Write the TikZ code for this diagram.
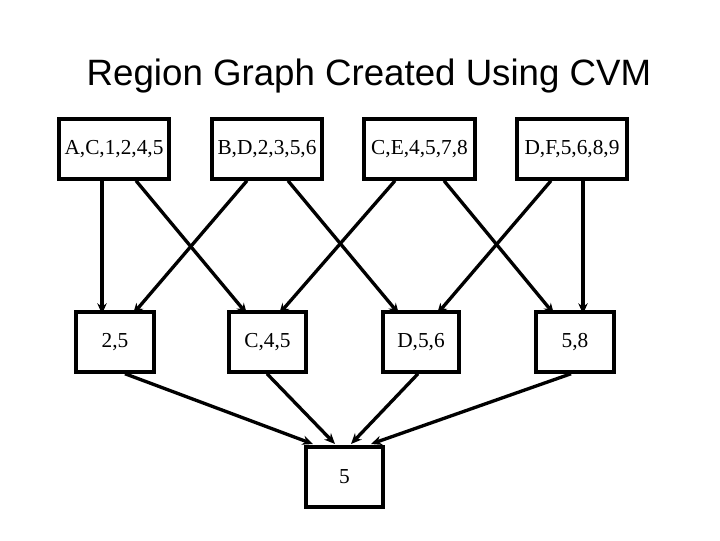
\documentclass[tikz,border=0pt]{standalone}
\usepackage{fontspec}
\usetikzlibrary{arrows.meta}
\setmainfont{Liberation Serif}
\newfontfamily\titlefont{Liberation Sans}
\begin{document}
\begin{tikzpicture}[x=0.75pt,y=-0.75pt,
  box/.style={draw,line width=2.6pt,inner sep=0pt,font=\fontsize{16}{16}\selectfont},
  arr/.style={line width=2.5pt,-{Stealth[length=8pt,width=7pt]}}]
\useasboundingbox (0,0) rectangle (720,540);
\node[font=\titlefont\fontsize{27.5}{28}\selectfont] (title) at (369,76) {Region Graph Created Using CVM};
% top
\node[box,minimum width=82.5pt,minimum height=45pt] (t1) at (114,149) {A,C,1,2,4,5};
\node[box,minimum width=82.5pt,minimum height=45pt] (t2) at (267,149) {B,D,2,3,5,6};
\node[box,minimum width=83pt,minimum height=45pt] (t3) at (419.5,149) {C,E,4,5,7,8};
\node[box,minimum width=82.5pt,minimum height=45pt] (t4) at (572,149) {D,F,5,6,8,9};
% middle
\node[box,minimum width=58.5pt,minimum height=45pt] (m1) at (115,342) {2,5};
\node[box,minimum width=58pt,minimum height=45pt] (m2) at (267.5,342) {C,4,5};
\node[box,minimum width=57pt,minimum height=45pt] (m3) at (421,342) {D,5,6};
\node[box,minimum width=58.5pt,minimum height=45pt] (m4) at (575,342) {5,8};
% bottom
\node[box,minimum width=58pt,minimum height=45pt] (b) at (344.5,477) {5};
% arrows
\draw[arr] (t1.south -| 102,0) -- (102,314);
\draw[arr] (t1.south -| 136,0) -- (247,314);
\draw[arr] (t2.south -| 247,0) -- (133,314);
\draw[arr] (t2.south -| 288,0) -- (399,314);
\draw[arr] (t3.south -| 395,0) -- (279,314);
\draw[arr] (t3.south -| 444,0) -- (554,314);
\draw[arr] (t4.south -| 551,0) -- (437,314);
\draw[arr] (t4.south -| 583,0) -- (583,314);
\draw[arr] (m1.south -| 125,0) -- (313,444);
\draw[arr] (m2.south -| 267,0) -- (335,444);
\draw[arr] (m3.south -| 418,0) -- (351,444);
\draw[arr] (m4.south -| 571,0) -- (371,444);
\end{tikzpicture}
\end{document}
